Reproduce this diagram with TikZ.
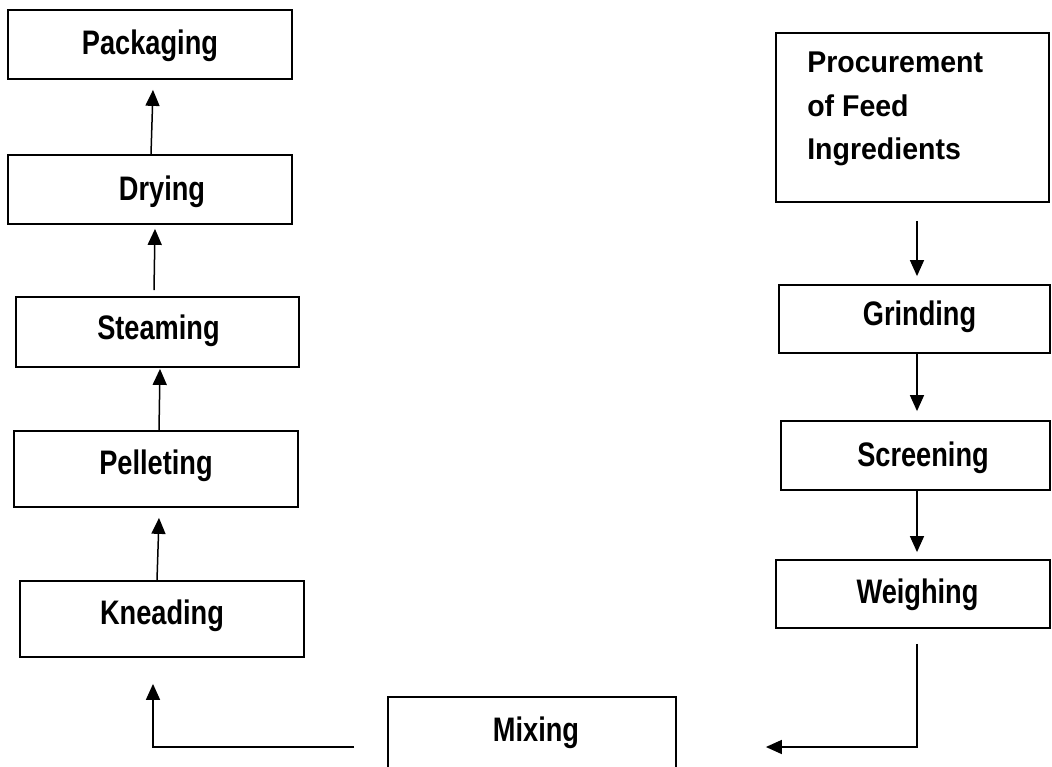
\documentclass[tikz,border=0pt]{standalone}
\usepackage{fontspec}
\setmainfont[FakeStretch=0.8]{Liberation Sans}
\newfontfamily\procfont[FakeStretch=0.95]{Liberation Sans}
\usetikzlibrary{arrows.meta}
\tikzset{
  box/.style={draw, line width=1.8pt, inner sep=0pt},
  lbl/.style={inner sep=0pt, font=\fontsize{34}{40}\selectfont\bfseries},
  plbl/.style={inner sep=0pt, font=\procfont\fontsize{30}{43.3}\selectfont\bfseries},
  arr/.style={line width=1.5pt, -{Triangle[length=16pt,width=14pt]}},
}
\begin{document}
\begin{tikzpicture}[x=1pt,y=-1pt]
\useasboundingbox (0,0) rectangle (1052,767);
% left column
\node[box, minimum width=284pt, minimum height=69pt, label={[lbl,yshift=-1.5pt]center:Packaging}] (pack) at (150,44.5) {};
\node[box, minimum width=284pt, minimum height=69pt, label={[lbl,xshift=12pt,yshift=-2pt]center:Drying}] (dry) at (150,189.5) {};
\node[box, minimum width=283pt, minimum height=70pt, label={[lbl,xshift=1pt,yshift=1.5pt]center:Steaming}] (steam) at (157.5,332) {};
\node[box, minimum width=284pt, minimum height=76pt, label={[lbl,yshift=3pt]center:Pelleting}] (pel) at (156,469) {};
\node[box, minimum width=284pt, minimum height=76pt, label={[lbl,yshift=3pt]center:Kneading}] (kne) at (162,619) {};
% right column
\node[box, minimum width=273pt, minimum height=169pt, label={[plbl,align=left,anchor=west,xshift=32pt,yshift=8.5pt]west:Procurement\\of Feed\\Ingredients}] (proc) at (912.5,117.5) {};
\node[box, minimum width=271pt, minimum height=68pt, label={[lbl,xshift=5pt,yshift=2pt]center:Grinding}] (grind) at (914.5,319) {};
\node[box, minimum width=269pt, minimum height=69pt, label={[lbl,xshift=7.5pt,yshift=-2pt]center:Screening}] (screen) at (915.5,455.5) {};
\node[box, minimum width=274pt, minimum height=68pt, label={[lbl,xshift=4.5pt,yshift=-1pt]center:Weighing}] (weigh) at (913,594) {};
% mixing
\node[box, minimum width=288pt, minimum height=88pt, label={[lbl,xshift=4pt,yshift=8.5pt]center:Mixing}] (mix) at (532,741) {};
% left arrows
\draw[arr] ([xshift=1pt]dry.north) -- ([xshift=3pt,yshift=-10pt]pack.south);
\draw[arr] ([xshift=-3.5pt,yshift=6pt]steam.north) -- ([xshift=5pt,yshift=-4pt]dry.south);
\draw[arr] ([xshift=3pt]pel.north) -- ([xshift=2.5pt,yshift=-1pt]steam.south);
\draw[arr] ([xshift=-5pt]kne.north) -- ([xshift=3pt,yshift=-10pt]pel.south);
% right arrows
\draw[arr] ([xshift=4.5pt,yshift=-18pt]proc.south) -- ([xshift=2.5pt,yshift=8pt]grind.north);
\draw[arr] ([xshift=2.5pt]grind.south) -- ([xshift=1.5pt,yshift=9pt]screen.north);
\draw[arr] ([xshift=1.5pt]screen.south) -- ([xshift=4pt,yshift=7pt]weigh.north);
% bottom connectors
\coordinate (wturn) at (917,747);
\coordinate (kturn) at (153,747);
\draw[arr] ([xshift=4pt,yshift=-15pt]weigh.south) -- (wturn) -- ([xshift=89pt,yshift=-6pt]mix.east);
\draw[arr] ([xshift=-33pt,yshift=-6pt]mix.west) -- (kturn) -- ([xshift=-9pt,yshift=-26pt]kne.south);
\end{tikzpicture}
\end{document}
